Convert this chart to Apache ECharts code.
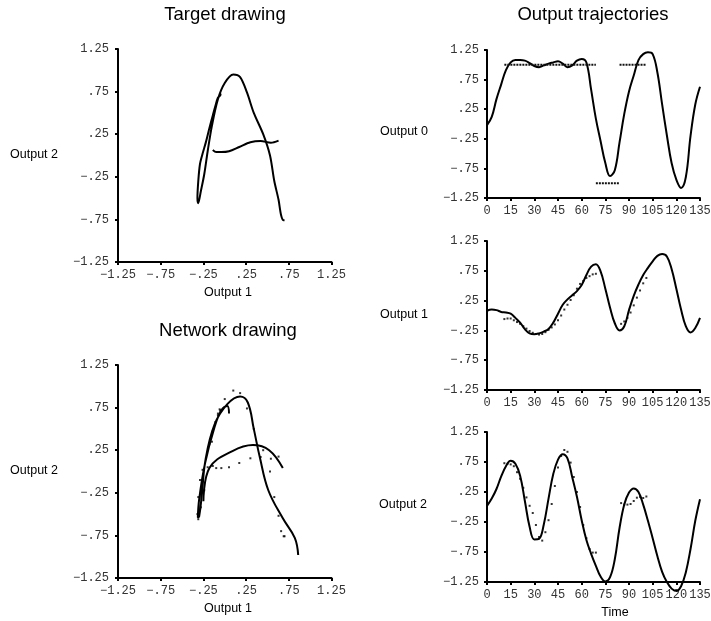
<!DOCTYPE html>
<html><head><meta charset="utf-8">
<script src="https://cdn.jsdelivr.net/npm/echarts@6/dist/echarts.min.js"></script>
<style>html,body{margin:0;padding:0;background:#fff}#c{width:711px;height:621px}</style>
</head><body><div id="c"></div>
<script>
// ---------- tick values and labels ----------
const valueTicks = [-1.25, -0.75, -0.25, 0.25, 0.75, 1.25];
const valueTickLabels = ['\u22121.25', '\u2212.75', '\u2212.25', '.25', '.75', '1.25'];
const timeTicks = [0, 15, 30, 45, 60, 75, 90, 105, 120, 135];
const timeTickLabels = ['0', '15', '30', '45', '60', '75', '90', '105', '120', '135'];

// ---------- network outputs (solid lines) ----------
const netTime = [0,3,6,9,12,15,18,21,24,27,30,33,36,39,42,45,48,51,54,57,60,63,66,69,72,75,78,81,84,87,90,93,96,99,102,105,108,111,114,117,120,123,126,129,132,135];
const netOut0 = [-0.02,0.12,0.42,0.67,0.91,1.04,1.08,1.08,1.07,1.03,0.98,0.96,0.99,1.02,1.04,1.06,1.02,0.96,0.99,1.07,1.1,1.04,0.58,0.09,-0.29,-0.66,-0.88,-0.78,-0.31,0.17,0.55,0.82,1.08,1.18,1.21,1.18,0.87,0.33,-0.19,-0.66,-0.94,-1.08,-0.9,-0.2,0.33,0.63];
const netOut1 = [0.08,0.1,0.09,0.06,0.05,0.03,-0.04,-0.12,-0.23,-0.3,-0.315,-0.3,-0.27,-0.225,-0.12,0.03,0.18,0.27,0.34,0.41,0.51,0.68,0.82,0.86,0.74,0.45,0.13,-0.13,-0.25,-0.18,0.09,0.33,0.52,0.68,0.8,0.91,1.0,1.03,0.99,0.78,0.45,0.1,-0.18,-0.285,-0.21,-0.04];
const netOut2 = [0.02,0.14,0.3,0.51,0.68,0.77,0.72,0.52,0.1,-0.33,-0.54,-0.53,-0.29,0.14,0.55,0.79,0.88,0.81,0.5,0.17,-0.22,-0.55,-0.78,-0.98,-1.16,-1.24,-1.17,-0.87,-0.35,0.04,0.24,0.31,0.25,0.04,-0.23,-0.52,-0.82,-1.08,-1.25,-1.36,-1.4,-1.32,-1.09,-0.7,-0.23,0.13];

// ---------- targets (dotted) ----------
const penStart = [11, 69, 84];
const penEnd   = [69, 84, 101];
const penValue = [1, -1, 1];
const tgtTime = [11,13,15,17,19,21,23,25,27,29,31,33,35,37,39,41,43,45,47,49,51,53,55,57,59,61,63,65,67,69, 85,87,89,91,93,95,97,99,101];
const tgtOut1 = [-0.06,-0.05,-0.05,-0.08,-0.11,-0.14,-0.18,-0.22,-0.26,-0.29,-0.31,-0.32,-0.31,-0.28,-0.24,-0.2,-0.15,-0.08,0.0,0.1,0.18,0.26,0.34,0.45,0.53,0.58,0.63,0.66,0.69,0.7, -0.14,-0.1,-0.04,0.05,0.17,0.3,0.42,0.54,0.63];
const tgtOut2 = [0.73,0.72,0.71,0.68,0.58,0.47,0.32,0.16,0.02,-0.1,-0.3,-0.5,-0.56,-0.42,-0.22,0.05,0.35,0.66,0.85,0.95,0.92,0.74,0.5,0.25,0.0,-0.3,-0.52,-0.7,-0.76,-0.76, 0.065,0.04,0.04,0.05,0.1,0.155,0.17,0.15,0.175];

// ---------- build ----------
const INK = '#000';
function labelFor(v, ticks, labels) {
  for (let i = 0; i < ticks.length; i++) if (Math.abs(ticks[i] - v) < 1e-6) return labels[i];
  return '';
}
function axis(gridIndex, ticks, labels, margin) {
  return {
    type: 'value', gridIndex,
    min: ticks[0], max: ticks[ticks.length - 1], interval: ticks[1] - ticks[0],
    axisLine: { show: true, onZero: false, lineStyle: { color: INK, width: 2 } },
    axisTick: { show: true, length: 3, lineStyle: { color: INK, width: 2 } },
    splitLine: { show: false },
    axisLabel: { margin, color: '#333', fontFamily: 'Liberation Mono', fontSize: 12,
      formatter: v => labelFor(v, ticks, labels) }
  };
}
const runs = penStart.map((s, i) => ({ s, e: penEnd[i], v: penValue[i] }));
const downRuns = runs.filter(r => r.v === 1);

const tgtStrokes = downRuns.map(r => {
  const pts = [];
  tgtTime.forEach((t, i) => { if (t >= r.s && t <= r.e) pts.push([tgtOut1[i], tgtOut2[i]]); });
  return pts;
});
const netStrokes = downRuns.map(r => {
  const pts = [];
  netTime.forEach((t, i) => { if (t >= r.s && t <= r.e) pts.push([netOut1[i], netOut2[i]]); });
  return pts;
});
const tgtPts = tgtTime.map((t, i) => [tgtOut1[i], tgtOut2[i]]);

const solid = { color: INK, width: 2 };
const series = [];
tgtStrokes.forEach(p => series.push({ type: 'line', xAxisIndex: 0, yAxisIndex: 0, data: p, symbol: 'none', smooth: 0.3, lineStyle: solid, clip: false }));
netStrokes.forEach(p => series.push({ type: 'line', xAxisIndex: 1, yAxisIndex: 1, data: p, symbol: 'none', smooth: 0.4, lineStyle: solid, clip: false }));
series.push({ type: 'scatter', xAxisIndex: 1, yAxisIndex: 1, data: tgtPts, symbol: 'rect', symbolSize: 2, itemStyle: { color: INK } });

// trajectories
series.push({ type: 'line', xAxisIndex: 2, yAxisIndex: 2, data: netTime.map((t, i) => [t, netOut0[i]]), symbol: 'none', smooth: 0.4, lineStyle: solid, clip: false });
runs.forEach(r => series.push({ type: 'line', xAxisIndex: 2, yAxisIndex: 2, data: [[r.s, r.v], [r.e, r.v]], symbol: 'none', lineStyle: { color: '#111', width: 2, type: [2, 1] } }));
series.push({ type: 'line', xAxisIndex: 3, yAxisIndex: 3, data: netTime.map((t, i) => [t, netOut1[i]]), symbol: 'none', smooth: 0.4, lineStyle: solid, clip: false });
series.push({ type: 'scatter', xAxisIndex: 3, yAxisIndex: 3, data: tgtTime.map((t, i) => [t, tgtOut1[i]]), symbol: 'rect', symbolSize: 2, itemStyle: { color: INK } });
series.push({ type: 'line', xAxisIndex: 4, yAxisIndex: 4, data: netTime.map((t, i) => [t, netOut2[i]]), symbol: 'none', smooth: 0.4, lineStyle: solid, clip: false });
series.push({ type: 'scatter', xAxisIndex: 4, yAxisIndex: 4, data: tgtTime.map((t, i) => [t, tgtOut2[i]]), symbol: 'rect', symbolSize: 2, itemStyle: { color: INK } });

function txt(text, x, y, size) {
  return { type: 'text', x, y, style: { text, fill: INK, fontSize: size, fontFamily: 'Liberation Sans', align: 'center', verticalAlign: 'middle' } };
}

const chart = echarts.init(document.getElementById('c'));
chart.setOption({
  animation: false,
  backgroundColor: '#fff',
  grid: [
    { left: 118, top: 49, width: 213.5, height: 213, outerBoundsMode: 'none' },
    { left: 118, top: 365, width: 213.5, height: 213, outerBoundsMode: 'none' },
    { left: 487, top: 50, width: 213, height: 148, outerBoundsMode: 'none' },
    { left: 487, top: 241, width: 213, height: 149, outerBoundsMode: 'none' },
    { left: 487, top: 432, width: 213, height: 150, outerBoundsMode: 'none' }
  ],
  xAxis: [
    axis(0, valueTicks, valueTickLabels, 7), axis(1, valueTicks, valueTickLabels, 7),
    axis(2, timeTicks, timeTickLabels, 7), axis(3, timeTicks, timeTickLabels, 7), axis(4, timeTicks, timeTickLabels, 7)
  ],
  yAxis: [
    axis(0, valueTicks, valueTickLabels, 9), axis(1, valueTicks, valueTickLabels, 9),
    axis(2, valueTicks, valueTickLabels, 8), axis(3, valueTicks, valueTickLabels, 8), axis(4, valueTicks, valueTickLabels, 8)
  ],
  graphic: [
    txt('Target drawing', 225, 15, 18.5),
    txt('Network drawing', 228, 331, 18.5),
    txt('Output trajectories', 593, 15, 18.5),
    txt('Output 2', 34, 155, 12.5),
    txt('Output 2', 34, 471, 12.5),
    txt('Output 1', 228, 293, 12.5),
    txt('Output 1', 228, 609, 12.5),
    txt('Output 0', 404, 132, 12.5),
    txt('Output 1', 404, 315, 12.5),
    txt('Output 2', 403, 505, 12.5),
    txt('Time', 615, 613, 12.5)
  ],
  series
});
</script></body></html>
